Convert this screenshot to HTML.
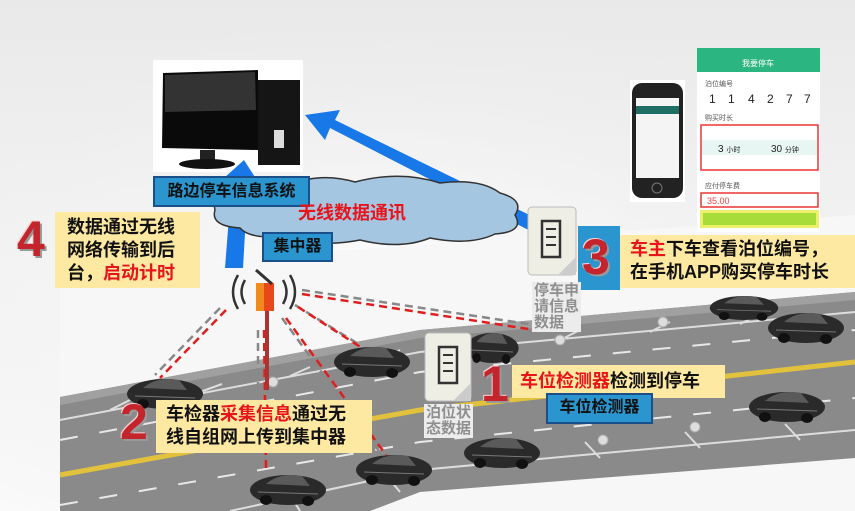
<!DOCTYPE html>
<html><head><meta charset="utf-8"><style>
html,body{margin:0;padding:0}
body{width:855px;height:511px;overflow:hidden;position:relative;font-family:"Liberation Sans","Noto Sans CJK SC",sans-serif;background:linear-gradient(180deg,#e9e9e9 0%,#f3f3f3 50%,#fafafa 100%)}
.abs{position:absolute}
.lbl{position:absolute;background:#2b95cf;border:2px solid #1a4f8a;color:#111;font-weight:bold;font-size:16px;line-height:26px;text-align:center;box-sizing:border-box}
.yel{position:absolute;background:#fde9a1;color:#111;font-weight:bold;font-size:18px;line-height:23px}
.num{position:absolute;color:#c4242b;font-weight:bold;font-family:"Liberation Sans",sans-serif;text-shadow:2px 2px 0 #999,-1px -1px 0 #f6d0d0}
.r{color:#e8141b}
.g{position:absolute;color:#8f8f8f;font-weight:bold;font-size:15px;line-height:16px;background:#ececec;padding:1px 2px}
</style></head><body>
<svg class="abs" style="left:0;top:0" width="855" height="511" viewBox="0 0 855 511">
<defs>
<radialGradient id="bg" cx="0.45" cy="0.6" r="0.6"><stop offset="0" stop-color="#ffffff"/><stop offset="1" stop-color="#ececec" stop-opacity="0"/></radialGradient>
<g id="car"><ellipse cx="0" cy="0" rx="38" ry="15" fill="#2a2a2a"/><path d="M-22 -6 Q-8 -18 14 -14 L22 -4 Z" fill="#5a5a5a"/><ellipse cx="-22" cy="10" rx="6" ry="5" fill="#111"/><ellipse cx="20" cy="11" rx="6" ry="5" fill="#111"/><path d="M-30 2 L30 4" stroke="#777" stroke-width="1"/></g>
</defs>
<rect width="855" height="511" fill="url(#bg)"/>
<polygon points="60,270 855,215 855,511 60,511" fill="#f7f7f7"/>
<polygon points="60,397 420,330 855,292 855,458 420,492 370,511 60,511" fill="#8a8a8a"/>
<polygon points="60,397 420,330 855,292 855,300 420,338 60,405" fill="#a0a0a0"/>
<polyline points="60,475 420,410 855,362" fill="none" stroke="#e2c23c" stroke-width="5"/>
<polyline points="60,440 420,372 855,330" fill="none" stroke="#e8e8e8" stroke-width="2" stroke-dasharray="18 22"/>
<polyline points="60,505 420,442 855,398" fill="none" stroke="#e8e8e8" stroke-width="2" stroke-dasharray="18 22"/>
<polyline points="60,420 420,352 855,312" fill="none" stroke="#ddd" stroke-width="2"/>
<polyline points="230,511 420,470 855,430" fill="none" stroke="#ddd" stroke-width="2"/>
<g stroke="#ddd" stroke-width="2">
<line x1="110" y1="410" x2="130" y2="400"/><line x1="200" y1="392" x2="222" y2="384"/><line x1="290" y1="376" x2="310" y2="367"/><line x1="380" y1="360" x2="400" y2="350"/><line x1="560" y1="340" x2="580" y2="330"/><line x1="650" y1="332" x2="670" y2="322"/><line x1="740" y1="324" x2="760" y2="314"/>
<line x1="300" y1="511" x2="290" y2="495"/><line x1="400" y1="492" x2="385" y2="474"/><line x1="500" y1="467" x2="485" y2="450"/><line x1="600" y1="458" x2="585" y2="442"/><line x1="700" y1="448" x2="685" y2="432"/><line x1="800" y1="440" x2="785" y2="424"/>
</g>
<g fill="#ddd" stroke="#aaa"><circle cx="273" cy="382" r="5"/><circle cx="560" cy="340" r="5"/><circle cx="663" cy="322" r="5"/><circle cx="603" cy="440" r="5"/><circle cx="695" cy="427" r="5"/><circle cx="225" cy="435" r="4"/></g>
<use href="#car" transform="translate(165,394)"/>
<use href="#car" transform="translate(372,362)"/>
<use href="#car" transform="translate(492,348) scale(0.7,1)"/>
<use href="#car" transform="translate(744,308) scale(0.9,0.8)"/>
<use href="#car" transform="translate(806,328)"/>
<use href="#car" transform="translate(787,407)"/>
<use href="#car" transform="translate(502,453)"/>
<use href="#car" transform="translate(394,470)"/>
<use href="#car" transform="translate(288,490)"/>
<g fill="none" stroke-width="2.5">
<line x1="220" y1="308" x2="155" y2="375" stroke="#888" stroke-dasharray="8 5"/><line x1="226" y1="310" x2="160" y2="378" stroke="#e01e1e" stroke-dasharray="8 5"/>
<line x1="258" y1="330" x2="258" y2="470" stroke="#888" stroke-dasharray="8 5"/><line x1="264" y1="330" x2="266" y2="470" stroke="#e01e1e" stroke-dasharray="8 5"/>
<line x1="282" y1="318" x2="382" y2="455" stroke="#888" stroke-dasharray="8 5"/><line x1="286" y1="318" x2="386" y2="455" stroke="#e01e1e" stroke-dasharray="8 5"/>
<line x1="295" y1="305" x2="360" y2="345" stroke="#888" stroke-dasharray="8 5"/><line x1="298" y1="307" x2="362" y2="348" stroke="#e01e1e" stroke-dasharray="8 5"/>
<line x1="302" y1="290" x2="535" y2="325" stroke="#888" stroke-dasharray="8 5"/><line x1="302" y1="294" x2="535" y2="330" stroke="#e01e1e" stroke-dasharray="8 5"/>
</g>
<rect x="265" y="300" width="4" height="90" fill="#a33"/>
<rect x="256" y="283" width="18" height="28" fill="#e8471c"/><rect x="256" y="283" width="8" height="28" fill="#f08a1c"/>
<line x1="256" y1="270" x2="272" y2="284" stroke="#333" stroke-width="3"/>
<g fill="none" stroke="#333" stroke-width="2.5">
<path d="M245 280 Q238 292 245 304"/><path d="M238 275 Q228 292 238 309"/><path d="M283 280 Q290 292 283 304"/><path d="M290 275 Q300 292 290 309"/></g>
<rect x="153" y="60" width="150" height="112" fill="#fff"/>
<polygon points="163,73 258,70 258,150 162,148" fill="#0a0a0a"/>
<polygon points="165,75 255,72 256,110 165,112" fill="#333"/>
<rect x="200" y="150" width="15" height="12" fill="#222"/><ellipse cx="207" cy="164" rx="28" ry="5" fill="#111"/>
<rect x="258" y="80" width="42" height="85" fill="#151515"/><rect x="274" y="130" width="10" height="18" fill="#ddd"/>
<polygon points="225,268 232,178 224,178 244,160 258,182 248,180 243,268" fill="#1878e8"/>
<polygon points="548,240 330,128 325,140 305,115 340,110 335,120 552,226" fill="#1878e8"/>
<path d="M215,210 Q210,190 245,192 Q255,178 290,185 Q320,172 355,182 Q400,170 440,183 Q480,178 500,193 Q525,200 515,215 Q525,232 495,234 Q470,246 430,238 Q400,250 360,240 Q320,248 290,236 Q250,240 240,228 Q210,226 215,210 Z" fill="#a5c6e0" stroke="#333" stroke-width="1.5"/>
<g transform="translate(528,207)"><rect width="48" height="68" rx="4" fill="#efeee4" stroke="#bbb"/><path d="M14 14 h18 v36 h-18 z" fill="none" stroke="#333" stroke-width="2.5"/><path d="M18 22h10M18 30h10M18 38h10" stroke="#333" stroke-width="2"/><path d="M30 68 L48 50 L48 68 Z" fill="#ccc"/></g>
<g transform="translate(425,333)"><rect width="46" height="68" rx="4" fill="#efeee4" stroke="#bbb"/><path d="M14 14 h18 v36 h-18 z" fill="none" stroke="#333" stroke-width="2.5"/><path d="M18 22h10M18 30h10M18 38h10" stroke="#333" stroke-width="2"/><path d="M28 68 L46 50 L46 68 Z" fill="#ccc"/></g>
<rect x="630" y="80" width="55" height="122" fill="#fff"/>
<rect x="632" y="83" width="51" height="115" rx="10" fill="#222"/>
<rect x="636" y="98" width="43" height="80" fill="#f4f4f4"/><rect x="636" y="106" width="43" height="8" fill="#1f6f66"/>
<circle cx="657" cy="188" r="5" fill="none" stroke="#777"/>
<rect x="697" y="48" width="123" height="184" fill="#fff"/>
<rect x="697" y="48" width="123" height="24" fill="#2bb580"/>
<text x="758" y="66" font-size="8" fill="#fff" text-anchor="middle">我要停车</text>
<text x="705" y="86" font-size="7" fill="#555">泊位编号</text>
<g font-size="12" fill="#222" font-family="Liberation Sans"><text x="709" y="103">1</text><text x="728" y="103">1</text><text x="748" y="103">4</text><text x="767" y="103">2</text><text x="786" y="103">7</text><text x="804" y="103">7</text></g>
<text x="705" y="120" font-size="7" fill="#555">购买时长</text>
<rect x="701" y="125" width="117" height="45" fill="#fff" stroke="#e33" stroke-width="1.5"/>
<rect x="702" y="140" width="115" height="15" fill="#e7f5f3"/>
<text x="718" y="152" font-size="10" fill="#222">3   <tspan font-size="7">小时</tspan></text><text x="771" y="152" font-size="10" fill="#222">30  <tspan font-size="7">分钟</tspan></text>
<text x="705" y="188" font-size="7" fill="#555">应付停车费</text>
<rect x="701" y="193" width="117" height="14" fill="#fff" stroke="#e33" stroke-width="1.5"/>
<text x="707" y="204" font-size="9" fill="#e44">35.00</text>
<rect x="700" y="210" width="119" height="18" fill="#ecf06a"/><rect x="703" y="213" width="113" height="12" fill="#a8dc3a"/>
</svg>

<div class="lbl" style="left:153px;top:176px;width:157px;height:31px;line-height:27px">路边停车信息系统</div>
<div class="abs" style="left:298px;top:199px;color:#e8141b;font-weight:bold;font-size:18px">无线数据通讯</div>
<div class="lbl" style="left:262px;top:232px;width:71px;height:30px">集中器</div>

<div class="num" style="left:17px;top:210px;font-size:50px">4</div>
<div class="yel" style="left:55px;top:212px;width:133px;height:72px;padding:4px 0 0 12px">数据通过无线<br>网络传输到后<br>台，<span class="r">启动计时</span></div>

<div class="abs" style="left:578px;top:226px;width:42px;height:64px;background:#2b95cf"></div>
<div class="num" style="left:582px;top:228px;font-size:50px">3</div>
<div class="yel" style="left:620px;top:235px;width:227px;height:50px;padding:3px 0 0 10px"><span class="r">车主</span>下车查看泊位编号，<br>在手机APP购买停车时长</div>
<div class="g" style="left:532px;top:282px">停车申<br>请信息<br>数据</div>

<div class="num" style="left:481px;top:355px;font-size:50px">1</div>
<div class="yel" style="left:512px;top:365px;width:205px;height:33px;padding:0 0 0 8px;line-height:33px"><span class="r">车位检测器</span>检测到停车</div>
<div class="lbl" style="left:546px;top:393px;width:107px;height:31px">车位检测器</div>
<div class="g" style="left:424px;top:404px">泊位状<br>态数据</div>

<div class="num" style="left:120px;top:393px;font-size:50px">2</div>
<div class="yel" style="left:156px;top:400px;width:206px;height:50px;padding:3px 0 0 10px">车检器<span class="r">采集信息</span>通过无<br>线自组网上传到集中器</div>
</body></html>
